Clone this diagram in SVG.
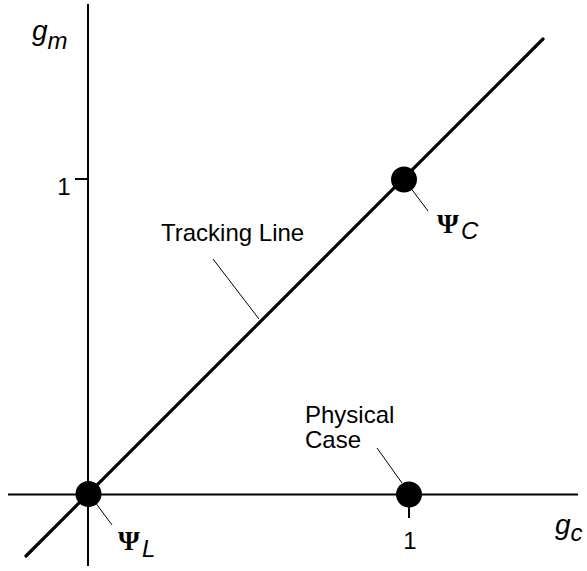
<svg xmlns="http://www.w3.org/2000/svg" width="587" height="571" viewBox="0 0 587 571">
<style>
.ax{stroke:#000;stroke-width:2;fill:none}
.diag{stroke:#000;stroke-width:3.2;fill:none;stroke-linecap:round}
.ld{stroke:#000;stroke-width:1;fill:none}
.dot{fill:#000}
.t{font-family:"Liberation Sans",Arial,sans-serif;font-size:24px;fill:#000}
.it{font-family:"Liberation Sans",Arial,sans-serif;font-style:italic;fill:#000}
.psi{font-family:"Liberation Serif","Times New Roman",serif;font-size:28px;font-weight:bold;fill:#000}
</style>
<rect width="587" height="571" fill="#fff"/>
<g id="connectors">
<line class="ax" x1="88" y1="4" x2="88" y2="566"/>
<line class="ax" x1="8" y1="494.5" x2="578" y2="494.5"/>
<line class="diag" x1="26" y1="556" x2="543" y2="39"/>
<line class="ax" x1="75" y1="179" x2="88" y2="179"/>
<line class="ax" x1="409" y1="505" x2="409" y2="518"/>
<line class="ld" x1="213" y1="259" x2="259" y2="319"/>
<line class="ld" x1="410" y1="187" x2="428" y2="211"/>
<line class="ld" x1="95" y1="502" x2="112" y2="525"/>
<line class="ld" x1="377" y1="448" x2="402" y2="483"/>
</g>
<g id="axis-labels">
<text class="it" x="32" y="40" font-size="28">g<tspan font-size="24" dy="9">m</tspan></text>
<text class="it" x="555" y="534" font-size="28">g<tspan font-size="24" dy="7">c</tspan></text>
<text class="t" x="64" y="195" text-anchor="middle">1</text>
<text class="t" x="410" y="549" text-anchor="middle">1</text>
</g>
<g id="tracking-line">
<text class="t" x="161" y="241">Tracking Line</text>
</g>
<g id="psi-c">
<circle class="dot" cx="404" cy="179.5" r="13"/>
<text class="psi" x="437" y="233">Ψ</text>
<text class="it" x="461" y="239" font-size="24">C</text>
</g>
<g id="psi-l">
<circle class="dot" cx="88.5" cy="494" r="13"/>
<text class="psi" x="118" y="550">Ψ</text>
<text class="it" x="142" y="557" font-size="24">L</text>
</g>
<g id="physical-case">
<circle class="dot" cx="409" cy="494.5" r="13"/>
<text class="t" x="305" y="423">Physical</text>
<text class="t" x="305" y="448">Case</text>
</g>
</svg>
